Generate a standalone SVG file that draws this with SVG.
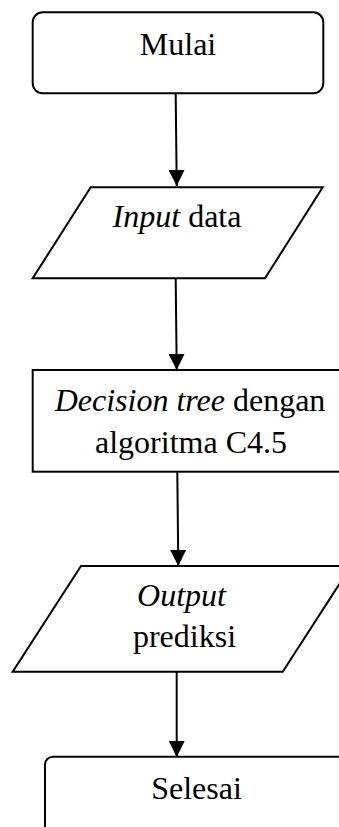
<svg xmlns="http://www.w3.org/2000/svg" width="339" height="827" viewBox="0 0 339 827">
  <defs>
    <marker id="arrow" viewBox="0 0 16 16" refX="16" refY="8" markerWidth="16" markerHeight="16" markerUnits="userSpaceOnUse" orient="auto">
      <path d="M0,0 L16,8 L0,16 z" fill="#000"/>
    </marker>
    <style>
      .shape { fill: #fff; stroke: #000; stroke-width: 2; }
      .label { font-family: "Liberation Serif", "Times New Roman", serif; font-size: 32px; fill: #000; text-anchor: middle; }
      .it { font-style: italic; }
      .edge { stroke: #000; stroke-width: 2; fill: none; marker-end: url(#arrow); }
    </style>
  </defs>
  <rect width="339" height="827" fill="#fff"/>

  <g id="connectors">
    <line class="edge" x1="175.7" y1="93.5" x2="176.7" y2="186"/>
    <line class="edge" x1="175.7" y1="278.5" x2="176.7" y2="370"/>
    <line class="edge" x1="177.3" y1="472" x2="178.3" y2="566"/>
    <line class="edge" x1="176.7" y1="672" x2="176.7" y2="757"/>
  </g>

  <g id="mulai">
    <rect class="shape" x="32.7" y="12.3" width="290.6" height="81" rx="10" ry="10"/>
    <text class="label" x="178" y="55">Mulai</text>
  </g>

  <g id="input-data">
    <polygon class="shape" points="90.7,187.3 322.7,187.3 265,278.3 32.7,278.3"/>
    <text class="label" x="177" y="227.3"><tspan class="it">Input</tspan> data</text>
  </g>

  <g id="decision-tree">
    <rect class="shape" x="32.7" y="370" width="315" height="101.7"/>
    <text class="label" x="190" y="410.7"><tspan class="it">Decision tree</tspan> dengan</text>
    <text class="label" x="191" y="452.7">algoritma C4.5</text>
  </g>

  <g id="output-prediksi">
    <polygon class="shape" points="81,566 351,566 282.7,671.7 12.7,671.7"/>
    <text class="label it" x="181.5" y="606">Output</text>
    <text class="label" x="184.5" y="646.7">prediksi</text>
  </g>

  <g id="selesai">
    <rect class="shape" x="45" y="756.7" width="303" height="90" rx="8" ry="8"/>
    <text class="label" x="196.5" y="798.5">Selesai</text>
  </g>
</svg>
